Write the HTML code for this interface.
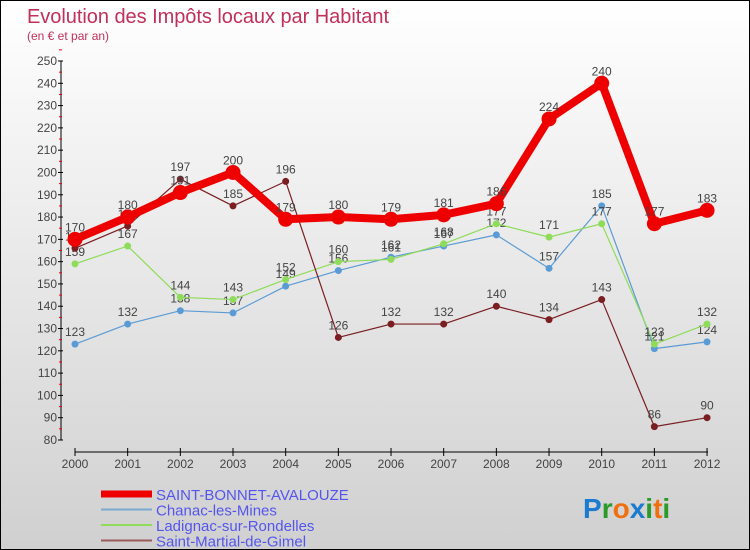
<!DOCTYPE html>
<html><head><meta charset="utf-8"><style>
body{margin:0}
#c{width:748px;height:548px;border:1px solid #000;background:linear-gradient(#fff,#d0d0d0);position:relative;font-family:"Liberation Sans",sans-serif;overflow:hidden}
svg text{font-family:"Liberation Sans",sans-serif}
</style></head><body>
<div id="c">
<svg id="s" width="748" height="548"></svg>
</div>
<script>
const years=["2000","2001","2002","2003","2004","2005","2006","2007","2008","2009","2010","2011","2012"];
const sba=[170,180,191,200,179,180,179,181,186,224,240,177,183];
const chanac=[123,132,138,137,149,156,162,167,172,157,185,121,124];
const ladignac=[159,167,144,143,152,160,161,168,177,171,177,123,132];
const smg=[166,176,197,185,196,126,132,132,140,134,143,86,90];
const yTicks=[80,90,100,110,120,130,140,150,160,170,180,190,200,210,220,230,240,250];
const NS="http://www.w3.org/2000/svg",s=document.getElementById('s');
const X=i=>74+i*52.67, Y=v=>439-(v-80)*(379/170);
function el(t,a,txt,p){const e=document.createElementNS(NS,t);for(const k in a)e.setAttribute(k,a[k]);if(txt!=null)e.textContent=txt;(p||s).appendChild(e);return e;}
let e;
e=el('text',{x:26,y:22,'font-size':20,fill:'#c0305a','font-weight':'300',textLength:362});
e.textContent='Evolution des Impôts locaux par Habitant';

e=el('text',{x:26,y:39,'font-size':12,fill:'#c0305a'},'(en € et par an)');

e=el('line',{x1:60,y1:Y(250),x2:60,y2:Y(80),stroke:'#000'});

yTicks.forEach(v=>{el('line',{x1:57,x2:62,y1:Y(v),y2:Y(v),stroke:'#000'});
 el('line',{x1:58,x2:61,y1:Y(v+5),y2:Y(v+5),stroke:'#e00'});
 e=el('text',{x:56,y:Y(v)+4,'font-size':12,fill:'#444','text-anchor':'end'},v);
 });
e=el('line',{x1:74,y1:451,x2:707,y2:451,stroke:'#000'});

years.forEach((y,i)=>{el('line',{x1:X(i),x2:X(i),y1:447,y2:455,stroke:'#000'});
 e=el('text',{x:X(i),y:467,'font-size':12,fill:'#444','text-anchor':'middle'},y);
 });
function series(d,col,w,r,name){
 const g=el('g',{});
 el('polyline',{points:d.map((v,i)=>X(i)+','+Y(v)).join(' '),fill:'none',stroke:col,'stroke-width':w,'stroke-linejoin':'round'},null,g);
 d.forEach((v,i)=>{const c=el('circle',{cx:X(i),cy:Y(v),r:r,fill:col},null,g);
  
  const t=el('text',{x:X(i),y:Y(v)-8,'font-size':12,fill:'#444','text-anchor':'middle'},v,g);
  });
}
series(chanac,'#5b9bd5',1.2,3.5,'series-chanac');
series(ladignac,'#8fdc5a',1.2,3.5,'series-ladignac');
series(smg,'#7a1e22',1.2,3.5,'series-saint-martial');
series(sba,'#ee0000',8,7.5,'series-saint-bonnet');
const leg=[['SAINT-BONNET-AVALOUZE','#ee0000',7],['Chanac-les-Mines','#7aaad0',2],['Ladignac-sur-Rondelles','#8fdc5a',2],['Saint-Martial-de-Gimel','#9a5a5a',2]];
leg.forEach((l,i)=>{const y=493+i*15.5;const g=el('g',{});
 el('line',{x1:100,x2:151,y1:y,y2:y,stroke:l[1],'stroke-width':l[2]},null,g);
 el('text',{x:155,y:y+6,'font-size':15,fill:'#5555ee'},l[0],g);});
const lg=el('text',{x:582,y:517,'font-size':28,'font-weight':'bold'});

[['P','#1a7bd0'],['r','#2a9a2a'],['o','#f07010'],['x','#1a7bd0'],['i','#2a9a2a'],['t','#f07010'],['i','#2a9a2a']].forEach(c=>el('tspan',{fill:c[1]},c[0],lg));
</script>
</body></html>
